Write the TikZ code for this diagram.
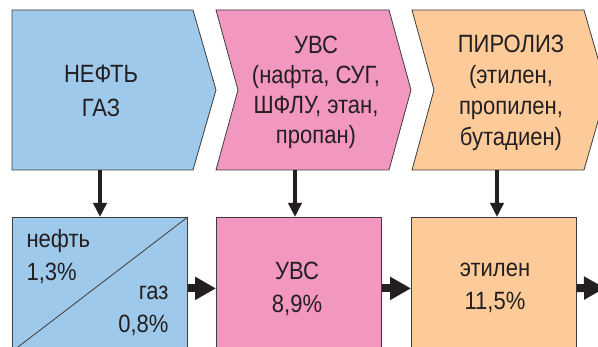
\documentclass[tikz,border=0pt]{standalone}
\usepackage{fontspec}
\setmainfont{Liberation Sans}[FakeStretch=0.88]
\usetikzlibrary{arrows.meta}
\definecolor{nefblue}{RGB}{159,201,234}
\definecolor{uvspink}{RGB}{242,152,192}
\definecolor{pyrpeach}{RGB}{253,203,153}
\definecolor{edge}{RGB}{60,60,60}
\definecolor{arr}{RGB}{35,31,32}
\tikzset{
  chev/.style={draw=edge,line width=0.8pt,line join=miter},
  box/.style={draw=edge,line width=0.8pt,minimum width=165pt,minimum height=142pt,anchor=north west,inner sep=0pt},
  harr/.style={-{Triangle[length=21pt,width=22pt]},line width=8pt,draw=arr},
  varr/.style={-{Triangle[length=14pt,width=13pt]},line width=4.5pt,draw=arr},
  big/.style={font=\fontsize{25}{33}\selectfont,text=arr}
}
\begin{document}
\begin{tikzpicture}[x=1pt,y=-1pt,font=\fontsize{25}{31}\selectfont]
\clip(0,0)rectangle(598,347);
%верхний ряд
\draw[chev,fill=nefblue](12,10)--(193,10)--(216,90)--(193,170)--(12,170)--cycle;%нефть, газ
\draw[chev,fill=uvspink](216,10)--(389,10)--(411,90)--(389,170)--(216,170)--(238,90)--cycle;%УВС
\draw[chev,fill=pyrpeach](412,10)--(584,10)--(607,90)--(584,170)--(412,170)--(434,90)--cycle;%пиролиз
\node[anchor=base,align=center,text=arr,font=\fontsize{25}{34}\selectfont](src)at(101,117){НЕФТЬ\\ГАЗ};
\node[anchor=base,align=center,text=arr,font=\fontsize{25}{30.3}\selectfont](uvs)at(316,144){УВС\\(нафта, СУГ,\\ШФЛУ, этан,\\пропан)};
\node[anchor=base,align=center,text=arr](pyr)at(511,146){ПИРОЛИЗ\\(этилен,\\пропилен,\\бутадиен)};
\coordinate(c1)at(100,170);
\coordinate(c2)at(295,170);
\coordinate(c3)at(497,170);
%нижний ряд
\node[box,fill=nefblue,minimum width=175pt](b1)at(12,217){};
\node[box,fill=uvspink](b2)at(216,217){};
\node[box,fill=pyrpeach](b3)at(411,217){};
\draw[edge,line width=0.8pt](b1.north east)--++(-175,134);%диагональ
\node[big,anchor=base west,align=left](oil)at(23,281){нефть\\1,3\%};
\node[big,anchor=base east,align=right](gas)at(172,333){газ\\0,8\%};
\node[big,anchor=base,align=center](uvsp)at(297,313){УВС\\8,9\%};
\node[big,anchor=base,align=center](eth)at(495,310){этилен\\11,5\%};
\coordinate(out)at(605,288);
%стрелки
\draw[varr](c1)--(c1|-b1.north);
\draw[varr](c2)--(c2|-b2.north);
\draw[varr](c3)--(c3|-b3.north);
\draw[harr](b1)--(b2);
\draw[harr](b2)--(b3);
\draw[harr](b3)--(out);
\end{tikzpicture}
\end{document}
